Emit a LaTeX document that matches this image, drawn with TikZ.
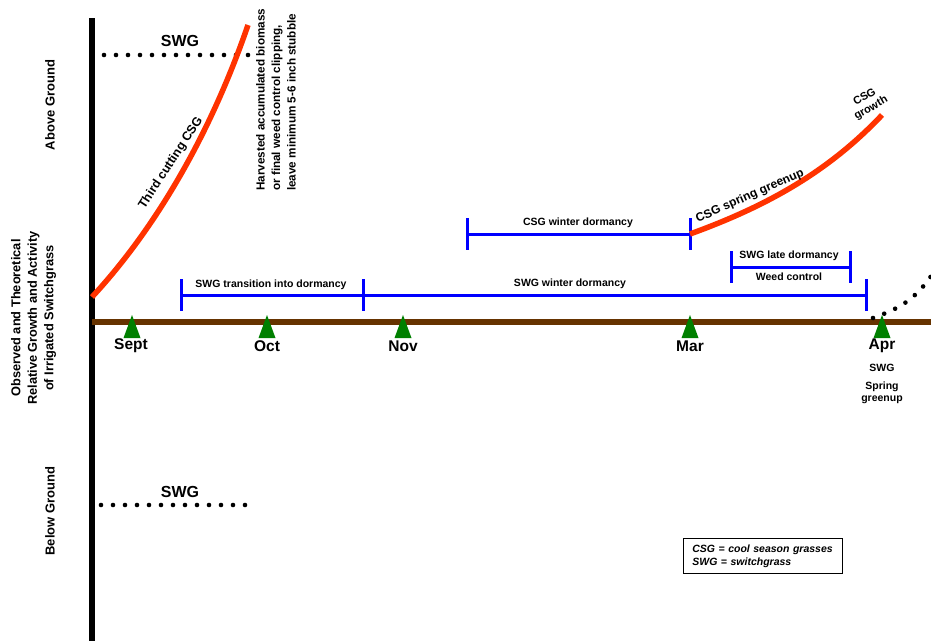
\documentclass[tikz,border=0pt]{standalone}
\usepackage{fontspec}
\setmainfont{Liberation Sans}
\definecolor{csgred}{HTML}{FF3300}
\definecolor{soil}{HTML}{663300}
\definecolor{tri}{HTML}{008000}
\definecolor{barblue}{HTML}{0000FF}
\begin{document}
\begin{tikzpicture}[x=1pt,y=-1pt,
  fs/.style={font=\fontsize{#1}{#1}\selectfont\bfseries},
  month/.style={font=\fontsize{15.5}{18}\selectfont\bfseries, inner sep=0pt},
  biglbl/.style={font=\fontsize{16}{18}\selectfont\bfseries, inner sep=0pt},
  barlbl/.style={font=\fontsize{10.5}{12}\selectfont\bfseries, inner sep=0pt},
  interval/.style={draw=barblue, line width=3pt},
  redcurve/.style={draw=csgred, line width=5.5pt},
  dotline/.style={line width=4.6pt, dash pattern=on 0pt off 12pt, line cap=round},
  marker/.style={fill=tri},
  sidelbl/.style={rotate=90, inner sep=0pt}
]
\useasboundingbox (0,0) rectangle (931,640);
\fill[white] (0,0) rectangle (931,640);

% axes
\coordinate (axtop) at (92,18);
\coordinate (axbot) at (92,645);
\draw[line width=5.5pt] (axtop) -- (axbot);
\coordinate (soilL) at (92,322);
\coordinate (soilR) at (935,322);
\draw[soil, line width=6.5pt] (soilL) -- (soilR);

% month markers
\coordinate (msept) at (132,315);
\coordinate (moct) at (267,315);
\coordinate (mnov) at (403,315);
\coordinate (mmar) at (690,315);
\coordinate (mapr) at (882,315);
\foreach \m in {msept,moct,mnov,mmar,mapr}
  \fill[marker] (\m) -- ++(8.5,23) -- ++(-17,0) -- cycle;
\node[month] (lsept) at (131,346) {Sept};
\node[month] (loct) at (267,346) {Oct};
\node[month] (lnov) at (403,346) {Nov};
\node[month] (lmar) at (690,346) {Mar};
\node[month] (lapr) at (882,346) {Apr};
\node[barlbl] (swgspr) at (882,368) {SWG};
\node[barlbl, align=center, font=\fontsize{10.5}{12.5}\selectfont\bfseries] (sprgr) at (882,393) {Spring\\greenup};

% SWG dotted lines
\coordinate (dupA) at (104,55);
\coordinate (dupB) at (248.5,55);
\draw[dotline] (dupA) -- (dupB);
\node[biglbl] (swgup) at (180,41) {SWG};
\coordinate (ddnA) at (101,505);
\coordinate (ddnB) at (246,505);
\draw[dotline] (ddnA) -- (ddnB);
\node[biglbl] (swgdn) at (180,492) {SWG};

% right dotted curve
\coordinate (drA) at (873,318);
\coordinate (drB) at (940,262);
\draw[dotline] (drA) .. controls (900,308) and (918,300) .. (drB);

% intervals
\coordinate (t1a) at (181,295);
\coordinate (t1b) at (363,295);
\coordinate (t2b) at (866,295);
\draw[interval] (t1a) -- (t2b);
\foreach \c in {t1a,t1b,t2b} \draw[interval] (\c) ++(0,-16) -- ++(0,32);
\node[barlbl] (ltrans) at (271,285) {SWG transition into dormancy};
\node[barlbl] (lswgwd) at (570,284) {SWG winter dormancy};

\coordinate (c1a) at (467,234);
\coordinate (c1b) at (690,234);
\draw[interval] (c1a) -- (c1b);
\foreach \c in {c1a,c1b} \draw[interval] (\c) ++(0,-16) -- ++(0,32);
\node[barlbl] (lcsgwd) at (578,223) {CSG winter dormancy};

\coordinate (l1a) at (731,267);
\coordinate (l1b) at (850,267);
\draw[interval] (l1a) -- (l1b);
\foreach \c in {l1a,l1b} \draw[interval] (\c) ++(0,-16) -- ++(0,32);
\node[barlbl] (llate) at (789,256) {SWG late dormancy};
\node[barlbl] (lweed) at (789,277) {Weed control};

% red curves
\coordinate (r1a) at (92,297);
\coordinate (r1b) at (248,25);
\draw[redcurve] (r1a) .. controls (145,240) and (205,150) .. (r1b);
\node[fs=12.5, rotate=57, inner sep=0pt] (lthird) at (171,163) {Third cutting CSG};

\coordinate (r2b) at (882,115);
\draw[redcurve] (c1b) .. controls (770,205) and (830,170) .. (r2b);
\node[fs=12, rotate=24, inner sep=0pt] (lspring) at (750,196) {CSG spring greenup};
\node[rotate=30, align=center, inner sep=0pt, font=\fontsize{11}{12.5}\selectfont\bfseries] (lgrowth) at (868,103) {CSG\\growth};

% harvest note
\node[rotate=90, anchor=north west, align=left, inner sep=0pt,
  font=\fontsize{11.7}{15.5}\selectfont\bfseries] (harvest) at (256,191)
  {Harvested accumulated biomass\\or final weed control clipping,\\leave minimum 5-6 inch stubble};

% side labels
\node[sidelbl, fs=13] (above) at (50,105) {Above Ground};
\node[sidelbl, fs=13] (below) at (50,511) {Below Ground};
\node[sidelbl, align=center, font=\fontsize{12.8}{16.5}\selectfont\bfseries] (main) at (33.5,318)
  {Observed and Theoretical\\Relative Growth and Activity\\of Irrigated Switchgrass};

% legend
\node[draw, line width=0.8pt, anchor=north west, align=left, text width=141pt,
  inner xsep=9pt, inner ysep=6.5pt,
  font=\fontsize{10.5}{12.5}\selectfont\bfseries\itshape] (legend) at (683,538)
  {CSG = cool season grasses\\SWG = switchgrass};
\end{tikzpicture}
\end{document}
